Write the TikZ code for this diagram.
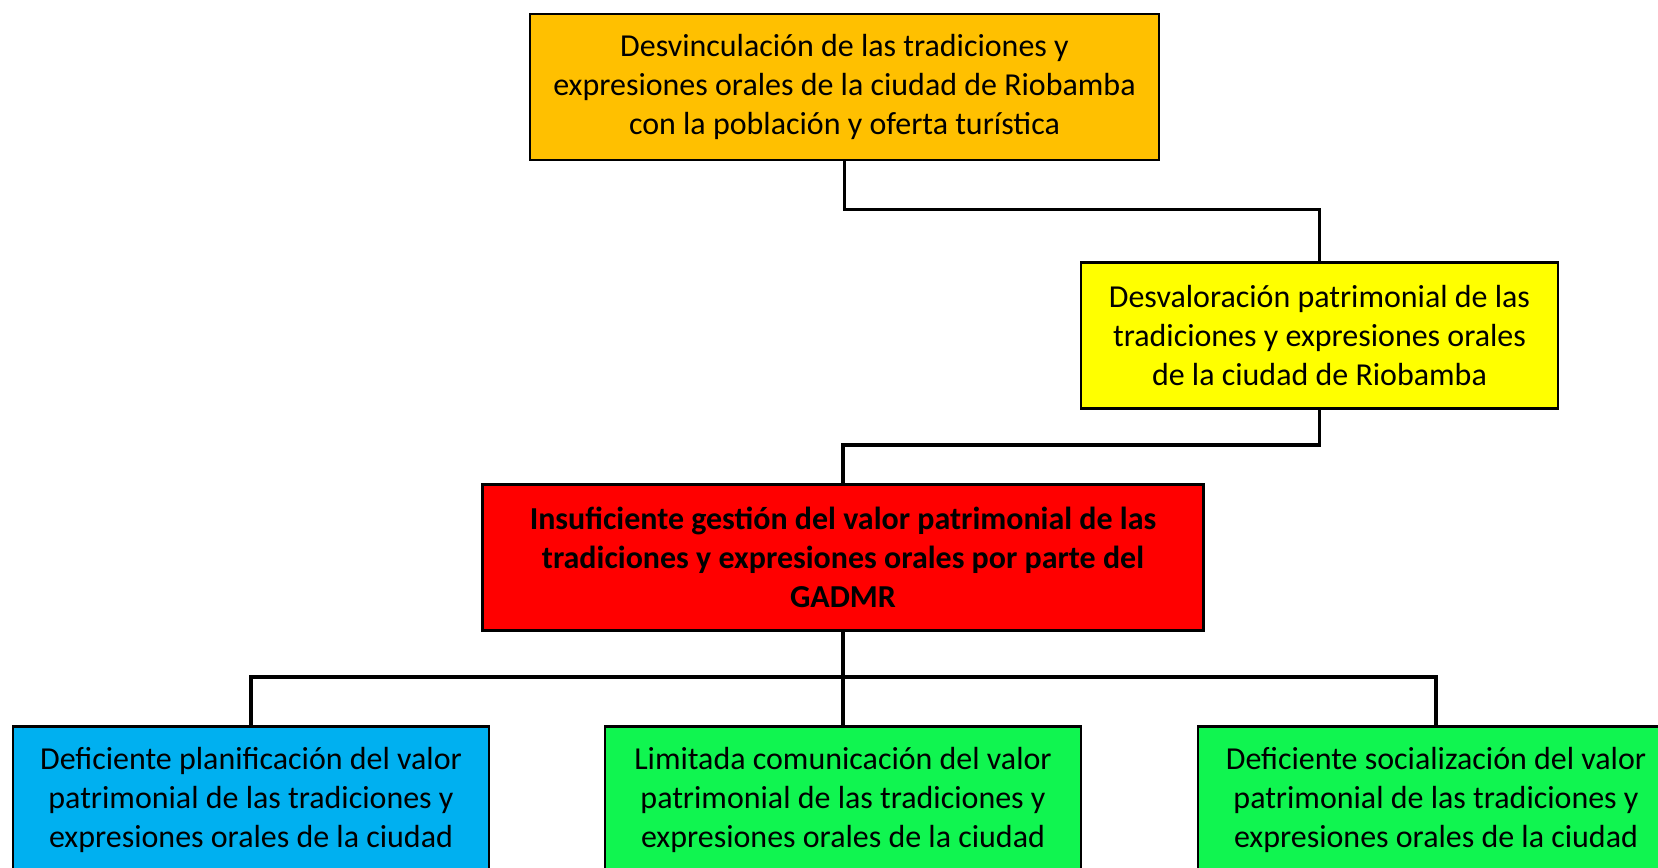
\documentclass[tikz,border=0pt]{standalone}
\usepackage{fontspec}
\setmainfont{Carlito}
\definecolor{cOrange}{RGB}{255,192,0}
\definecolor{cYellow}{RGB}{255,255,0}
\definecolor{cRed}{RGB}{255,0,0}
\definecolor{cBlue}{RGB}{0,176,240}
\definecolor{cGreen}{RGB}{16,245,80}
\begin{document}
\begin{tikzpicture}[x=0.02cm,y=-0.02cm,
  box/.style={draw=black,line width=1.3pt,minimum height=146*0.02cm,inner sep=0pt,align=center,font=\fontsize{18.2}{22.2}\selectfont},
  link/.style={line width=2.1pt}]
\useasboundingbox (0,0) rectangle (1658,868);
\clip (0,0) rectangle (1658,868);
\node[box,fill=cOrange,minimum width=629*0.02cm] (top) at (844.5,87) {Desvinculación de las tradiciones y\\expresiones orales de la ciudad de Riobamba\\con la población y oferta turística};
\node[box,fill=cYellow,minimum width=477*0.02cm] (yel) at (1319.5,335.5) {Desvaloración patrimonial de las\\tradiciones y expresiones orales\\de la ciudad de Riobamba};
\node[box,fill=cRed,minimum width=721*0.02cm,font=\fontsize{18.2}{22.2}\selectfont\bfseries] (red) at (843,557.5) {Insuficiente gestión del valor patrimonial de las\\tradiciones y expresiones orales por parte del\\GADMR};
\node[box,fill=cBlue,minimum width=476*0.02cm] (b1) at (251,799.5) {Deficiente planificación del valor\\patrimonial de las tradiciones y\\expresiones orales de la ciudad};
\node[box,fill=cGreen,minimum width=476*0.02cm] (b2) at (843,799.5) {Limitada comunicación del valor\\patrimonial de las tradiciones y\\expresiones orales de la ciudad};
\node[box,fill=cGreen,minimum width=476*0.02cm] (b3) at (1436,799.5) {Deficiente socialización del valor\\patrimonial de las tradiciones y\\expresiones orales de la ciudad};
\coordinate (m1) at (844,209.5);
\coordinate (m2) at (843,445);
\coordinate (bus) at (843,677);
\draw[link] (top.south) -- (top.south |- m1) -| (yel.north);
\draw[link] (yel.south) -- (yel.south |- m2) -| (red.north);
\draw[link] (red.south) -- (b2.north);
\draw[link] (b1.north) -- (b1.north |- bus) -- (b3.north |- bus) -- (b3.north);
\end{tikzpicture}
\end{document}
